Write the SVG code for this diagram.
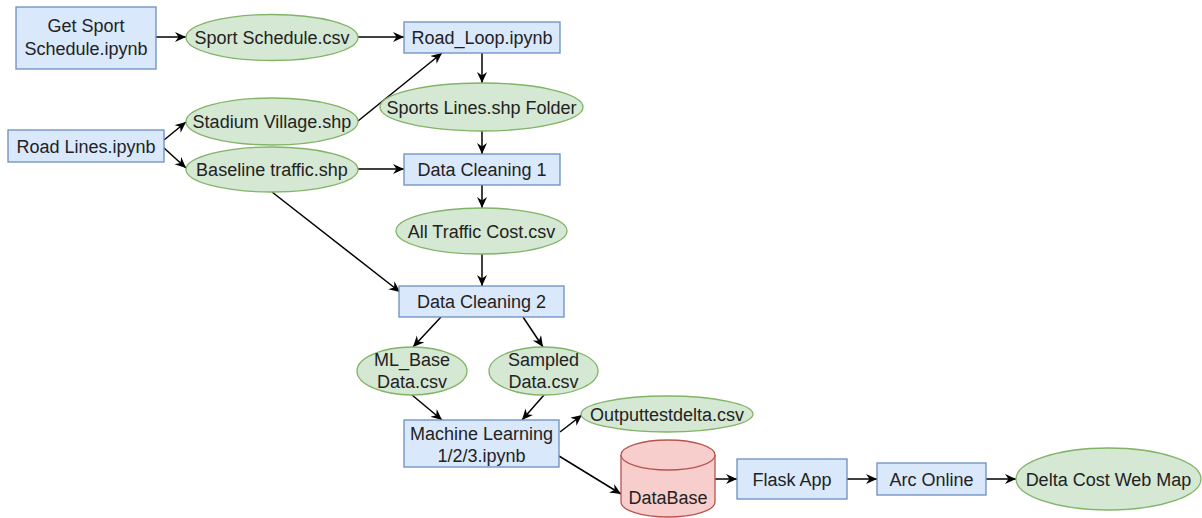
<svg xmlns="http://www.w3.org/2000/svg" width="1202" height="518" viewBox="0 0 1202 518">
<style>
.box{fill:#dae8fc;stroke:#6c8ebf;stroke-width:1.3}
.data{fill:#d5e8d4;stroke:#82b366;stroke-width:1.3}
.db{fill:#f8cecc;stroke:#b85450;stroke-width:1.3}
text{font-family:"Liberation Sans",Arial,sans-serif;font-size:18px;fill:#222;text-anchor:middle}
.edge{fill:none;stroke:#000;stroke-width:1.5;marker-end:url(#arr)}
</style>
<defs>
<marker id="arr" markerUnits="userSpaceOnUse" markerWidth="14" markerHeight="12" refX="11" refY="5" orient="auto">
<path d="M0,0 L11,5 L0,10 L3.5,5 Z" fill="#000"/>
</marker>
</defs>
<rect width="1202" height="518" fill="#fff"/>
<g id="connectors">
<path class="edge" d="M156,37 L186,37"/>
<path class="edge" d="M358,37 L404,37"/>
<path class="edge" d="M164,140 L186,122"/>
<path class="edge" d="M164,148 L186,168"/>
<path class="edge" d="M358,121 L442,53"/>
<path class="edge" d="M358,169 L404,169"/>
<path class="edge" d="M272,192 L400,292"/>
<path class="edge" d="M482,53 L482,83"/>
<path class="edge" d="M482,131 L482,154"/>
<path class="edge" d="M482,185 L482,208"/>
<path class="edge" d="M482,254 L482,286"/>
<path class="edge" d="M441,317 L413,347"/>
<path class="edge" d="M523,317 L543,347"/>
<path class="edge" d="M412,395 L442,420"/>
<path class="edge" d="M544,395 L522,420"/>
<path class="edge" d="M560,432 L582,415"/>
<path class="edge" d="M559,456 L621,494"/>
<path class="edge" d="M715,479 L737,479"/>
<path class="edge" d="M847,479 L877,479"/>
<path class="edge" d="M986,479 L1016,479"/>
</g>
<g id="getsport"><rect class="box" x="16" y="7" width="140" height="62"/><text x="86" y="32">Get Sport</text><text x="86" y="55">Schedule.ipynb</text></g>
<g id="sportschedule"><ellipse class="data" cx="272" cy="37.5" rx="86" ry="23"/><text x="272" y="44">Sport Schedule.csv</text></g>
<g id="roadloop"><rect class="box" x="404" y="22" width="156" height="31"/><text x="482" y="44">Road_Loop.ipynb</text></g>
<g id="roadlines"><rect class="box" x="8" y="130" width="156" height="32"/><text x="86" y="152.5">Road Lines.ipynb</text></g>
<g id="stadium"><ellipse class="data" cx="272" cy="121.5" rx="86" ry="23.5"/><text x="272" y="128">Stadium Village.shp</text></g>
<g id="baseline"><ellipse class="data" cx="272" cy="169.5" rx="86" ry="22.5"/><text x="272" y="176">Baseline traffic.shp</text></g>
<g id="sportslines"><ellipse class="data" cx="481.5" cy="107" rx="101.5" ry="24"/><text x="481.5" y="113.5">Sports Lines.shp Folder</text></g>
<g id="dc1"><rect class="box" x="404" y="154" width="156" height="31"/><text x="482" y="176">Data Cleaning 1</text></g>
<g id="alltraffic"><ellipse class="data" cx="481.5" cy="231" rx="85.5" ry="23"/><text x="481.5" y="237.5">All Traffic Cost.csv</text></g>
<g id="dc2"><rect class="box" x="399" y="286" width="165" height="31"/><text x="481.5" y="308">Data Cleaning 2</text></g>
<g id="mlbase"><ellipse class="data" cx="412" cy="371" rx="55" ry="24"/><text x="412" y="365.5">ML_Base</text><text x="412" y="387.5">Data.csv</text></g>
<g id="sampled"><ellipse class="data" cx="543.5" cy="371" rx="54.5" ry="24"/><text x="543.5" y="365.5">Sampled</text><text x="543.5" y="387.5">Data.csv</text></g>
<g id="output"><ellipse class="data" cx="667" cy="414" rx="86" ry="18"/><text x="667" y="420.5">Outputtestdelta.csv</text></g>
<g id="ml"><rect class="box" x="404" y="420" width="155" height="47"/><text x="481.5" y="440">Machine Learning</text><text x="481.5" y="462">1/2/3.ipynb</text></g>
<g id="database"><path class="db" d="M621,455 A47,15 0 0 1 715,455 L715,502 A47,15 0 0 1 621,502 Z"/><path class="db" d="M621,455 A47,15 0 0 0 715,455" fill="none"/><text x="668" y="504">DataBase</text></g>
<g id="flask"><rect class="box" x="737" y="459" width="110" height="40"/><text x="792" y="485.5">Flask App</text></g>
<g id="arc"><rect class="box" x="877" y="463" width="109" height="32"/><text x="931.5" y="485.5">Arc Online</text></g>
<g id="delta"><ellipse class="data" cx="1108.5" cy="479" rx="92.5" ry="31"/><text x="1108.5" y="485.5">Delta Cost Web Map</text></g>
</svg>
